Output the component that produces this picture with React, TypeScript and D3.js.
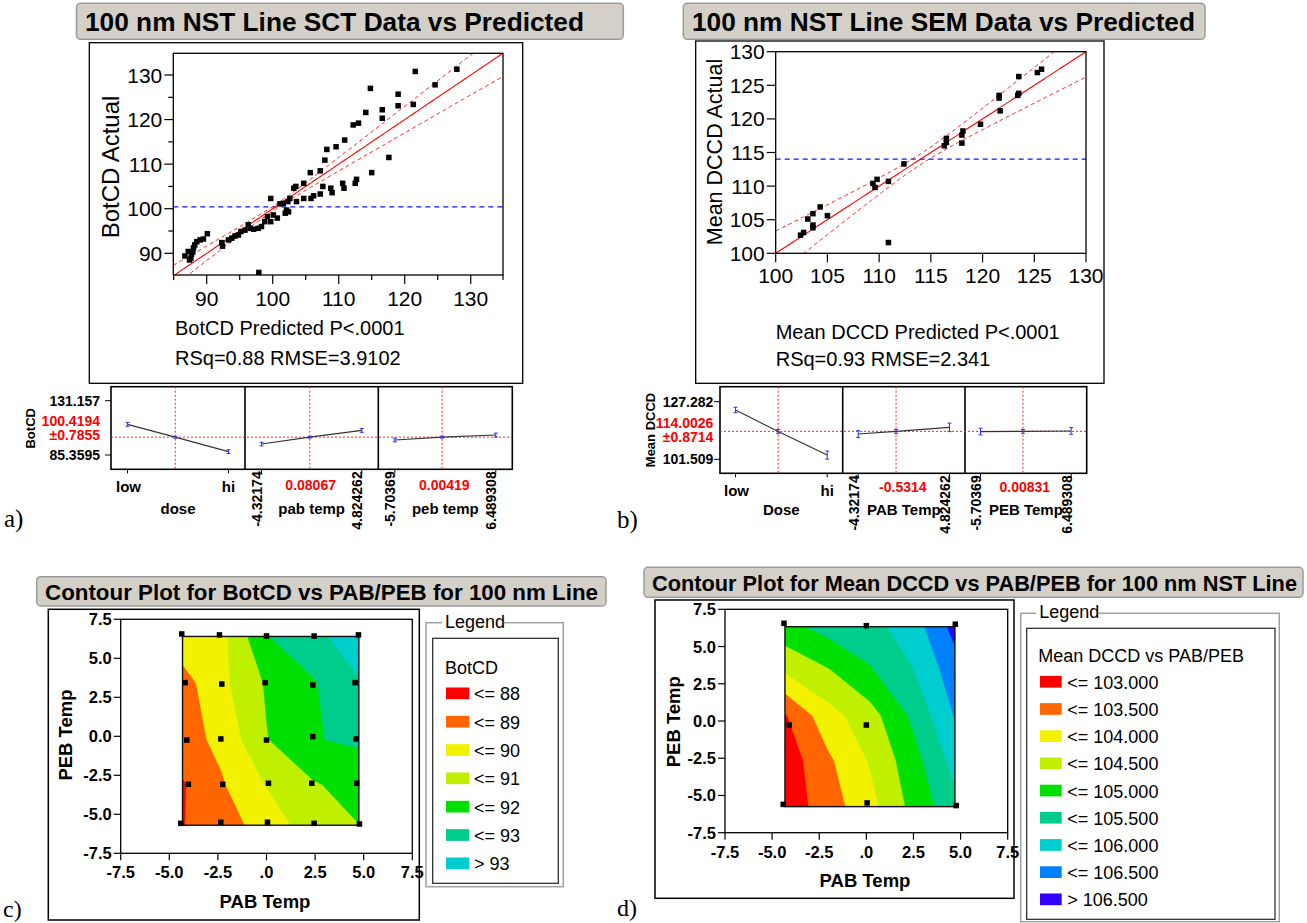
import React from 'react';
import * as d3 from 'd3';

const SANS = '"Liberation Sans", Arial, Helvetica, sans-serif';
const SERIF = '"Liberation Serif", "Times New Roman", serif';

// ---------------- Panel a: BotCD (SCT) actual vs predicted ----------------
const sctPredicted = [86.7, 87.2, 87.4, 87.6, 87.7, 87.9, 88.0, 88.2, 88.5, 89.0, 89.5, 90.1,
  92.3, 92.4, 93.3, 93.8, 94.3, 94.8, 95.2, 95.8, 96.3, 96.6, 97.1, 97.8, 98.3, 98.8, 99.2, 99.7, 99.7, 100.1, 100.7, 101.1,
  101.6, 101.9, 102.1, 102.3, 102.4, 102.6, 103.2, 103.5, 103.6, 104.7, 104.7,
  105.7, 105.8, 106.2, 107.2, 107.2, 107.6, 107.9, 108.2, 108.8, 109.0, 109.6, 110.6, 110.8, 110.9, 112.2, 112.5, 112.7, 113.0, 114.1, 114.8,
  115.0, 116.6, 116.6, 117.6, 119.0, 119.0, 121.3, 121.6, 124.6, 127.9, 97.9];
const sctActual = [89.4, 90.4, 88.5, 88.9, 89.8, 90.3, 91.2, 91.9, 92.6, 93.0, 93.2, 94.4,
  92.4, 91.6, 93.0, 93.4, 93.9, 94.1, 94.9, 95.2, 96.4, 95.6, 95.4, 95.6, 96.0, 97.1, 98.2, 97.1, 102.3, 98.6, 97.9, 101.1,
  101.2, 99.0, 99.7, 101.6, 99.3, 102.3, 104.6, 105.0, 101.6, 105.7, 102.3,
  108.1, 102.3, 102.9, 108.5, 103.3, 105.0, 110.9, 113.3, 104.6, 103.6, 113.9, 105.7, 104.6, 115.4, 118.8, 105.7, 106.6, 119.2, 121.6, 127.0,
  108.1, 122.2, 120.3, 111.5, 125.7, 123.1, 123.4, 130.8, 127.8, 131.3, 85.7];
const sctMean = 100.4194;
const sctMajorTicks = [90, 100, 110, 120, 130];
const sctMinorTicks = [85, 95, 105, 115, 125, 135];
const sctBand = { a: 0.5, b: 0.15 };
const sctTexts = ['100 nm NST Line SCT Data vs Predicted', 'BotCD Actual', 'BotCD Predicted P<.0001', 'RSq=0.88 RMSE=3.9102'];

// ---------------- Panel b: Mean DCCD (SEM) actual vs predicted ----------------
const semPredicted = [102.4, 102.7, 103.1, 103.6, 103.6, 103.6, 104.3, 105.0, 109.4, 109.6, 109.8, 110.9, 110.9, 112.4,
  116.3, 116.5, 116.5, 118.0, 118.1, 118.0, 119.8, 121.6, 121.6, 121.7, 123.4, 123.5, 123.5, 125.3, 125.7];
const semActual = [102.7, 103.1, 105.1, 105.9, 104.2, 103.8, 106.9, 105.6, 110.4, 109.8, 111.0, 110.7, 101.6, 113.3,
  116.0, 116.5, 117.1, 117.6, 118.2, 116.4, 119.2, 123.5, 123.1, 121.2, 123.5, 126.3, 123.8, 126.9, 127.4];
const semMean = 114.0026;
const semTicks = [100, 105, 110, 115, 120, 125, 130];
const semBand = { a: 0.8, b: 0.23 };
const semTexts = ['100 nm NST Line SEM Data vs Predicted', 'Mean DCCD Actual', 'Mean DCCD Predicted P<.0001', 'RSq=0.93 RMSE=2.341'];

// ---------------- Profilers ----------------
const botFactorNames = ['dose', 'pab temp', 'peb temp'];
const botFactorDomains = [[-1, 1], [-4.32174, 4.824262], [-5.70369, 6.489308]];
const botFactorCurrent = [-0.054, 0.08067, 0.00419];
const botLowLabels = ['low', '-4.32174', '-5.70369'];
const botHighLabels = ['hi', '4.824262', '6.489308'];
const botCurrentLabels = ['', '0.08067', '0.00419'];
const botProfile = [[111.2, 100.42, 88.2], [94.6, 100.42, 106.1], [98.0, 100.42, 102.2]];
const botProfileErr = [[1.6, 0.79, 1.6], [1.5, 0.79, 1.6], [1.5, 0.79, 1.6]];
const botAxis = { lo: 85.3595, hi: 131.157, mean: 100.4194, loText: '85.3595', hiText: '131.157', meanText: '100.4194', ciText: '±0.7855', name: 'BotCD' };

const dccdFactorNames = ['Dose', 'PAB Temp', 'PEB Temp'];
const dccdFactorDomains = [[-1, 1], [-4.32174, 4.824262], [-5.70369, 6.489308]];
const dccdFactorCurrent = [-0.07, -0.5314, 0.00831];
const dccdLowLabels = ['low', '-4.32174', '-5.70369'];
const dccdHighLabels = ['hi', '4.824262', '6.489308'];
const dccdCurrentLabels = ['', '-0.5314', '0.00831'];
const dccdProfile = [[123.6, 114.0, 103.4], [112.8, 114.0, 115.8], [113.9, 114.0, 114.2]];
const dccdProfileErr = [[1.2, 0.87, 1.8], [1.5, 0.87, 1.9], [1.5, 0.87, 1.5]];
const dccdAxis = { lo: 101.509, hi: 127.282, mean: 114.0026, loText: '101.509', hiText: '127.282', meanText: '114.0026', ciText: '±0.8714', name: 'Mean DCCD' };

// ---------------- Contour c ----------------
const cTitle = 'Contour Plot for BotCD vs PAB/PEB for 100 nm Line';
const cGridX = [-4.32, -2.3, 0, 2.4, 4.75];
const cGridY = [6.4, 3.4, -0.2, -3.1, -5.6];
const cGrid = [
  [89.6, 89.7, 91.95, 92.7, 93.6],
  [88.6, 89.75, 91.1, 91.9, 92.9],
  [88.6, 89.25, 90.95, 91.95, 92.15],
  [87.9, 88.9, 90.05, 90.9, 91.4],
  [87.95, 88.7, 89.3, 90.7, 91.0],
];
const cThresholds = [88, 89, 90, 91, 92, 93];
const cColors = ['#ff0000', '#ff6600', '#f2f200', '#bef000', '#00e000', '#00cc8c', '#00cece'];
const cLegendLabels = ['<= 88', '<= 89', '<= 90', '<= 91', '<= 92', '<= 93', '> 93'];
const cDesignX = [-4.36, -2.42, 0.0, 2.45, 4.73, -4.19, -2.3, -0.07, 2.38, 4.56, -4.1, -2.35, 0.0, 2.38, 4.61, -4.02, -2.25, 0.1, 2.33, 4.64, -4.41, -2.35, 0.05, 2.45, 4.78];
const cDesignY = [6.56, 6.5, 6.43, 6.43, 6.5, 3.44, 3.35, 3.44, 3.29, 3.44, -0.24, -0.17, -0.24, -0.02, -0.17, -3.08, -3.08, -3.01, -3.01, -3.01, -5.58, -5.51, -5.51, -5.58, -5.62];
const cRegion = { x0: -4.32, x1: 4.75, y0: -5.7, y1: 6.4 };

// ---------------- Contour d ----------------
const dTitle = 'Contour Plot for Mean DCCD vs PAB/PEB for 100 nm NST Line';
const dGridX = [-4.32, -2.05, 0.22, 2.48, 4.75];
const dGridY = [6.4, 3.375, 0.35, -2.675, -5.7];
const dGrid = [
  [104.85, 105.2, 105.35, 105.75, 106.7],
  [104.05, 104.45, 104.95, 105.48, 106.3],
  [102.95, 103.8, 104.3, 105.1, 106.05],
  [102.7, 103.4, 104.05, 104.8, 105.7],
  [102.68, 103.26, 103.84, 104.65, 105.35],
];
const dThresholds = [103, 103.5, 104, 104.5, 105, 105.5, 106, 106.5];
const dColors = ['#ff0000', '#ff6600', '#f2f200', '#bef000', '#00e000', '#00cc8c', '#00cece', '#0080ff', '#3300ff'];
const dLegendLabels = ['<= 103.000', '<= 103.500', '<= 104.000', '<= 104.500', '<= 105.000', '<= 105.500', '<= 106.000', '<= 106.500', '> 106.500'];
const dDesignX = [-4.37, 0, 4.72, -4.09, 0, -4.41, 0.04, 4.77];
const dDesignY = [6.56, 6.4, 6.5, -0.27, -0.27, -5.6, -5.5, -5.68];
const dRegion = { x0: -4.32, x1: 4.7, y0: -5.75, y1: 6.33 };

const contourTicks = [-7.5, -5, -2.5, 0, 2.5, 5, 7.5];
const contourXTickLabels = ['-7.5', '-5.0', '-2.5', '.0', '2.5', '5.0', '7.5'];
const contourYTickLabels = ['-7.5', '-5.0', '-2.5', '0.0', '2.5', '5.0', '7.5'];

// ---------------------------------------------------------------------------
function TitleBox({ box, text, textX, width, size }: any) {
  const [x0, y0, x1, y1] = box;
  return (
    <g>
      <rect x={x0} y={y0} width={x1 - x0} height={y1 - y0} rx={4} fill="#d4d0c8" stroke="#9c9c9c" strokeWidth={1.5} />
      <text x={textX} y={(y0 + y1) / 2 + 1} dominantBaseline="central" fontFamily={SANS} fontWeight="bold" fontSize={size}
        textLength={width} lengthAdjust="spacingAndGlyphs" fill="#000">{text}</text>
    </g>
  );
}

function ActualByPredicted(p: any) {
  const [px0, py0, px1, py1] = p.plot;
  const x = d3.scaleLinear().domain(p.xDom).range([px0, px1]);
  const y = d3.scaleLinear().domain(p.yDom).range([py1, py0]);
  const hw = (v: number) => Math.sqrt(p.band.a * p.band.a + Math.pow(p.band.b * (v - p.mean), 2));
  const xs = d3.range(p.xDom[0], p.xDom[1] + 1e-6, (p.xDom[1] - p.xDom[0]) / 200);
  const fit = d3.line<number>().x(v => x(v)).y(v => y(v))(xs);
  const up = d3.line<number>().x(v => x(v)).y(v => y(v + hw(v)))(xs);
  const lo = d3.line<number>().x(v => x(v)).y(v => y(v - hw(v)))(xs);
  const ms = 5.5;
  const [tx, ty, tLabel, tStats] = p.texts;
  return (
    <g>
      <TitleBox box={p.titleBox} text={tx} textX={p.titleX} width={p.titleW} size={25.5} />
      <rect x={p.frame[0]} y={p.frame[1]} width={p.frame[2] - p.frame[0]} height={p.frame[3] - p.frame[1]} fill="white" stroke="#000" strokeWidth={1.3} />
      <defs>
        <clipPath id={p.id}><rect x={px0} y={py0} width={px1 - px0} height={py1 - py0} /></clipPath>
      </defs>
      <g clipPath={`url(#${p.id})`}>
        <line x1={px0} x2={px1} y1={y(p.mean)} y2={y(p.mean)} stroke="#1010ff" strokeWidth={1.2} strokeDasharray="5 4" />
        <path d={fit || ''} fill="none" stroke="#ff0000" strokeWidth={1.1} />
        <path d={up || ''} fill="none" stroke="#ff2020" strokeWidth={1} strokeDasharray="4 3" />
        <path d={lo || ''} fill="none" stroke="#ff2020" strokeWidth={1} strokeDasharray="4 3" />
        {p.pred.map((v: number, i: number) => (
          <rect key={i} x={x(v) - ms / 2} y={y(p.act[i]) - ms / 2} width={ms} height={ms} fill="#000" />
        ))}
      </g>
      <rect x={px0} y={py0} width={px1 - px0} height={py1 - py0} fill="none" stroke="#000" strokeWidth={1.3} />
      {p.major.map((t: number) => (
        <g key={'x' + t}>
          <line x1={x(t)} x2={x(t)} y1={py1} y2={py1 + 9} stroke="#000" strokeWidth={1.2} />
          <text x={x(t)} y={p.xTickY} textAnchor="middle" dominantBaseline="central" fontFamily={SANS} fontSize={21}>{t}</text>
          <line x1={px0 - 9} x2={px0} y1={y(t)} y2={y(t)} stroke="#000" strokeWidth={1.2} />
          <text x={px0 - 11} y={y(t)} textAnchor="end" dominantBaseline="central" fontFamily={SANS} fontSize={21}>{t}</text>
        </g>
      ))}
      {p.minor.map((t: number) => (
        <g key={'m' + t}>
          {t >= p.xDom[0] && t <= p.xDom[1] + 0.2 ? <line x1={x(Math.min(t, p.xDom[1]))} x2={x(Math.min(t, p.xDom[1]))} y1={py1} y2={py1 + 5} stroke="#000" strokeWidth={1.2} /> : null}
          {t >= p.yDom[0] && t <= p.yDom[1] ? <line x1={px0 - 5} x2={px0} y1={y(t)} y2={y(t)} stroke="#000" strokeWidth={1.2} /> : null}
        </g>
      ))}
      <text transform={`translate(${p.yLabelPos[0]},${p.yLabelPos[1]}) rotate(-90)`} textAnchor="middle" dominantBaseline="central"
        fontFamily={SANS} fontSize={p.yLabelSize}>{ty}</text>
      <text x={p.textX} y={p.labelY} dominantBaseline="central" fontFamily={SANS} fontSize={20}>{tLabel}</text>
      <text x={p.textX} y={p.statsY} dominantBaseline="central" fontFamily={SANS} fontSize={20}>{tStats}</text>
    </g>
  );
}

function Profiler(p: any) {
  const [bx0, by0, bx1, by1] = p.box;
  const y = d3.scaleLinear().domain([p.axis.lo, p.axis.hi]).range(p.yPix);
  const edges = [bx0, ...p.dividers, bx1];
  const meanY = y(p.axis.mean);
  const fs = 14;
  return (
    <g fontFamily={SANS}>
      <rect x={bx0} y={by0} width={bx1 - bx0} height={by1 - by0} fill="white" stroke="#000" strokeWidth={1.6} />
      {p.dividers.map((d: number) => <line key={d} x1={d} x2={d} y1={by0} y2={by1} stroke="#000" strokeWidth={1.6} />)}
      <line x1={bx0} x2={bx1} y1={meanY} y2={meanY} stroke="#ff2020" strokeWidth={1} strokeDasharray="2 2" />
      {[p.axis.lo, p.axis.hi].map((v: number) => (
        <line key={v} x1={bx0 - 6} x2={bx0} y1={y(v)} y2={y(v)} stroke="#000" strokeWidth={1} />
      ))}
      <text x={p.labelRight} y={y(p.axis.hi)} textAnchor="end" dominantBaseline="central" fontSize={fs} fontWeight="bold">{p.axis.hiText}</text>
      <text x={p.labelRight} y={y(p.axis.lo)} textAnchor="end" dominantBaseline="central" fontSize={fs} fontWeight="bold">{p.axis.loText}</text>
      <text x={p.labelRight} y={p.meanTextY[0]} textAnchor="end" dominantBaseline="central" fontSize={fs} fontWeight="bold" fill="#ff0000">{p.axis.meanText}</text>
      <text x={p.labelRight} y={p.meanTextY[1]} textAnchor="end" dominantBaseline="central" fontSize={fs} fontWeight="bold" fill="#ff0000">{p.axis.ciText}</text>
      <text transform={`translate(${p.namePos[0]},${p.namePos[1]}) rotate(-90)`} textAnchor="middle" dominantBaseline="central" fontSize={p.nameSize} fontWeight="bold">{p.axis.name}</text>
      {p.names.map((name: string, i: number) => {
        const c0 = edges[i] + p.pad, c1 = edges[i + 1] - p.pad;
        const x = d3.scaleLinear().domain(p.domains[i]).range([c0, c1]);
        const xs = [p.domains[i][0], p.current[i], p.domains[i][1]];
        const pts = xs.map((v: number, k: number) => [x(v), y(p.profile[i][k])] as [number, number]);
        const cx = (edges[i] + edges[i + 1]) / 2;
        return (
          <g key={name}>
            <line x1={x(p.current[i])} x2={x(p.current[i])} y1={by0} y2={by1} stroke="#ff2020" strokeWidth={1} strokeDasharray="2 2" />
            <path d={d3.line()(pts) || ''} fill="none" stroke="#333" strokeWidth={1.1} />
            {pts.map(([px, py], k) => {
              const e = Math.abs(y(p.profile[i][k] + p.err[i][k]) - py);
              return (
                <g key={k} stroke="#3030ff" strokeWidth={1}>
                  <line x1={px} x2={px} y1={py - e} y2={py + e} />
                  <line x1={px - 2} x2={px + 2} y1={py - e} y2={py - e} />
                  <line x1={px - 2} x2={px + 2} y1={py + e} y2={py + e} />
                </g>
              );
            })}
            <line x1={c0} x2={c0} y1={by1} y2={by1 + 4} stroke="#000" />
            <line x1={c1} x2={c1} y1={by1} y2={by1 + 4} stroke="#000" />
            {i === 0 ? (
              <g>
                <text x={c0 + 1} y={p.lowY} textAnchor="middle" dominantBaseline="central" fontSize={fs + 1} fontWeight="bold">{p.lows[i]}</text>
                <text x={c1} y={p.lowY} textAnchor="middle" dominantBaseline="central" fontSize={fs + 1} fontWeight="bold">{p.highs[i]}</text>
              </g>
            ) : (
              <g>
                <text transform={`translate(${c0 - 4.5},${by1 + 2}) rotate(-90)`} textAnchor="end" dominantBaseline="central" fontSize={fs} fontWeight="bold">{p.lows[i]}</text>
                <text transform={`translate(${c1 - 4.5},${by1 + 2}) rotate(-90)`} textAnchor="end" dominantBaseline="central" fontSize={fs} fontWeight="bold">{p.highs[i]}</text>
                <text x={cx - 1} y={p.currentY} textAnchor="middle" dominantBaseline="central" fontSize={fs} fontWeight="bold" fill="#ff0000">{p.currentLabels[i]}</text>
              </g>
            )}
            <text x={cx} y={p.nameY} textAnchor="middle" dominantBaseline="central" fontSize={fs + 1} fontWeight="bold">{name}</text>
          </g>
        );
      })}
    </g>
  );
}

function ContourPanel(p: any) {
  const [px0, py0, px1, py1] = p.plot;
  const x = d3.scaleLinear().domain([-7.5, 7.5]).range([px0, px1]);
  const y = d3.scaleLinear().domain([-7.5, 7.5]).range([py1, py0]);
  const n = p.gridX.length, m = p.gridY.length;
  const values = p.grid.flat();
  const gx = d3.scaleLinear().domain(p.gridX.map((_: number, i: number) => i + 0.5)).range(p.gridX);
  const gy = d3.scaleLinear().domain(p.gridY.map((_: number, j: number) => j + 0.5)).range(p.gridY);
  const proj = d3.geoTransform({
    point: function (this: any, a: number, b: number) { this.stream.point(x(gx(a)), y(gy(b))); },
  });
  const path = d3.geoPath(proj);
  const polys = d3.contours().size([n, m]).thresholds(p.thresholds)(values);
  const r = p.region;
  const rx0 = x(r.x0), rx1 = x(r.x1), ry0 = y(r.y1), ry1 = y(r.y0);
  const ms = 5.5;
  return (
    <g fontFamily={SANS}>
      <TitleBox box={p.titleBox} text={p.title} textX={p.titleX} width={p.titleW} size={22} />
      <rect x={p.frame[0]} y={p.frame[1]} width={p.frame[2] - p.frame[0]} height={p.frame[3] - p.frame[1]} fill="white" stroke="#000" strokeWidth={1.5} />
      <defs>
        <clipPath id={p.id}><rect x={rx0} y={ry0} width={rx1 - rx0} height={ry1 - ry0} /></clipPath>
      </defs>
      <g clipPath={`url(#${p.id})`}>
        <rect x={rx0} y={ry0} width={rx1 - rx0} height={ry1 - ry0} fill={p.colors[0]} />
        {polys.map((c: any, i: number) => (
          <path key={i} d={path(c) || ''} fill={p.colors[i + 1]} stroke={p.colors[i + 1]} strokeWidth={0.5} />
        ))}
      </g>
      <rect x={rx0} y={ry0} width={rx1 - rx0} height={ry1 - ry0} fill="none" stroke="#111" strokeWidth={1.4} />
      {p.dx.map((v: number, i: number) => (
        <rect key={i} x={x(v) - ms / 2} y={y(p.dy[i]) - ms / 2} width={ms} height={ms} fill="#000" />
      ))}
      <rect x={px0} y={py0} width={px1 - px0} height={py1 - py0} fill="none" stroke="#000" strokeWidth={1.3} />
      {contourTicks.map((t: number, i: number) => (
        <g key={t}>
          <line x1={x(t)} x2={x(t)} y1={py1} y2={py1 + 7} stroke="#000" strokeWidth={1.2} />
          <text x={x(t)} y={p.xTickY} textAnchor="middle" dominantBaseline="central" fontSize={16.5} fontWeight="bold">{contourXTickLabels[i]}</text>
          <line x1={px0 - 7} x2={px0} y1={y(t)} y2={y(t)} stroke="#000" strokeWidth={1.2} />
          <text x={px0 - 9} y={y(t)} textAnchor="end" dominantBaseline="central" fontSize={16.5} fontWeight="bold">{contourYTickLabels[i]}</text>
        </g>
      ))}
      <text x={p.xLabelPos[0]} y={p.xLabelPos[1]} textAnchor="middle" dominantBaseline="central" fontSize={18.5} fontWeight="bold">PAB Temp</text>
      <text transform={`translate(${p.yLabelPos[0]},${p.yLabelPos[1]}) rotate(-90)`} textAnchor="middle" dominantBaseline="central" fontSize={18.5} fontWeight="bold">PEB Temp</text>
    </g>
  );
}

function Legend(p: any) {
  const [ox0, oy0, ox1, oy1] = p.outer;
  const [ix0, iy0, ix1, iy1] = p.inner;
  return (
    <g fontFamily={SANS}>
      <rect x={ox0} y={oy0} width={ox1 - ox0} height={oy1 - oy0} fill="white" stroke="#a0a0a0" strokeWidth={1.5} />
      <rect x={p.legendX - 3} y={oy0 - 10} width={62} height={20} fill="white" />
      <text x={p.legendX} y={oy0 - 1} dominantBaseline="central" fontSize={18}>Legend</text>
      <rect x={ix0} y={iy0} width={ix1 - ix0} height={iy1 - iy0} fill="white" stroke="#222" strokeWidth={1.2} />
      <text x={p.titleX} y={p.titleY} dominantBaseline="central" fontSize={18}>{p.title}</text>
      {p.labels.map((lab: string, i: number) => (
        <g key={lab}>
          <rect x={p.swX} y={p.row0 + i * p.rowStep - 5.8} width={p.swW} height={11.7} fill={p.colors[i]} />
          <text x={p.textX} y={p.row0 + i * p.rowStep + 1} dominantBaseline="central" fontSize={18}>{lab}</text>
        </g>
      ))}
    </g>
  );
}

export default function App() {
  return (
    <svg width={1307} height={923} viewBox="0 0 1307 923" style={{ position: 'absolute', left: 0, top: 0, background: '#fff' }}>
      <rect x={0} y={0} width={1307} height={923} fill="#fff" />
      <ActualByPredicted id="clipA" titleBox={[76.5, 3.3, 623.3, 39.3]} titleX={85} titleW={499}
        frame={[89.3, 42.7, 522.7, 383.3]} plot={[173.3, 53.3, 503, 275]}
        xDom={[84.94, 134.89]} yDom={[85.13, 134.87]} major={sctMajorTicks} minor={sctMinorTicks}
        pred={sctPredicted} act={sctActual} mean={sctMean} band={sctBand} texts={sctTexts}
        yLabelPos={[110, 167]} yLabelSize={24} xTickY={298.3} textX={175} labelY={328.3} statsY={358.3} />
      <ActualByPredicted id="clipB" titleBox={[683.3, 3.3, 1205, 39.3]} titleX={692} titleW={503}
        frame={[695.7, 41, 1104, 383.3]} plot={[775.7, 51.7, 1086, 253.3]}
        xDom={[100, 130]} yDom={[100, 130]} major={semTicks} minor={[]}
        pred={semPredicted} act={semActual} mean={semMean} band={semBand} texts={semTexts}
        yLabelPos={[715, 152]} yLabelSize={21.5} xTickY={275} textX={775.7} labelY={331.7} statsY={359.3} />

      <Profiler box={[111, 386.7, 512.3, 469.3]} dividers={[245, 378.3]} pad={16.5} yPix={[455, 400.7]} axis={botAxis}
        labelRight={100} meanTextY={[420.8, 434.6]} namePos={[30.5, 428.3]} nameSize={13}
        names={botFactorNames} domains={botFactorDomains} current={botFactorCurrent} lows={botLowLabels} highs={botHighLabels}
        currentLabels={botCurrentLabels} profile={botProfile} err={botProfileErr} lowY={486.7} currentY={485} nameY={508} />
      <Profiler box={[720, 386.7, 1086.7, 473.3]} dividers={[842.7, 965]} pad={15.5} yPix={[459.3, 401.7]} axis={dccdAxis}
        labelRight={713.3} meanTextY={[423.3, 436.9]} namePos={[650.5, 430]} nameSize={13}
        names={dccdFactorNames} domains={dccdFactorDomains} current={dccdFactorCurrent} lows={dccdLowLabels} highs={dccdHighLabels}
        currentLabels={dccdCurrentLabels} profile={dccdProfile} err={dccdProfileErr} lowY={490} currentY={487.3} nameY={509.3} />

      <text x={4} y={527} fontFamily={SERIF} fontSize={25}>a)</text>
      <text x={617} y={528} fontFamily={SERIF} fontSize={25}>b)</text>

      <ContourPanel id="clipC" title={cTitle} titleBox={[36.7, 576.7, 606, 606]} titleX={45} titleW={553}
        frame={[48.3, 609.3, 419.3, 920]} plot={[120.7, 619.3, 412.3, 853.3]}
        gridX={cGridX} gridY={cGridY} grid={cGrid} thresholds={cThresholds} colors={cColors} region={cRegion}
        dx={cDesignX} dy={cDesignY} xTickY={871.7} xLabelPos={[265, 901.7]} yLabelPos={[65, 735]} />
      <Legend outer={[426, 622.7, 563.3, 886.7]} inner={[432.7, 638.3, 558.3, 883.3]} legendX={445}
        title="BotCD" titleX={445} titleY={668.3} labels={cLegendLabels} colors={cColors}
        swX={446} swW={23.3} textX={474} row0={693.3} rowStep={28.33} />

      <ContourPanel id="clipD" title={dTitle} titleBox={[644, 567.3, 1303, 597.3]} titleX={652} titleW={645}
        frame={[655, 600, 1014, 898.3]} plot={[725, 609.3, 1007.7, 832.7]}
        gridX={dGridX} gridY={dGridY} grid={dGrid} thresholds={dThresholds} colors={dColors} region={dRegion}
        dx={dDesignX} dy={dDesignY} xTickY={851.7} xLabelPos={[865, 880]} yLabelPos={[673.3, 721.7]} />
      <Legend outer={[1020.7, 613.3, 1279.3, 921.7]} inner={[1026.7, 628.3, 1275, 919.3]} legendX={1039.3}
        title="Mean DCCD vs PAB/PEB" titleX={1038.3} titleY={656} labels={dLegendLabels} colors={dColors}
        swX={1040} swW={21.7} textX={1067.3} row0={681.7} rowStep={27.2} />

      <text x={3} y={917} fontFamily={SERIF} fontSize={24}>c)</text>
      <text x={617} y={916} fontFamily={SERIF} fontSize={24}>d)</text>
    </svg>
  );
}
